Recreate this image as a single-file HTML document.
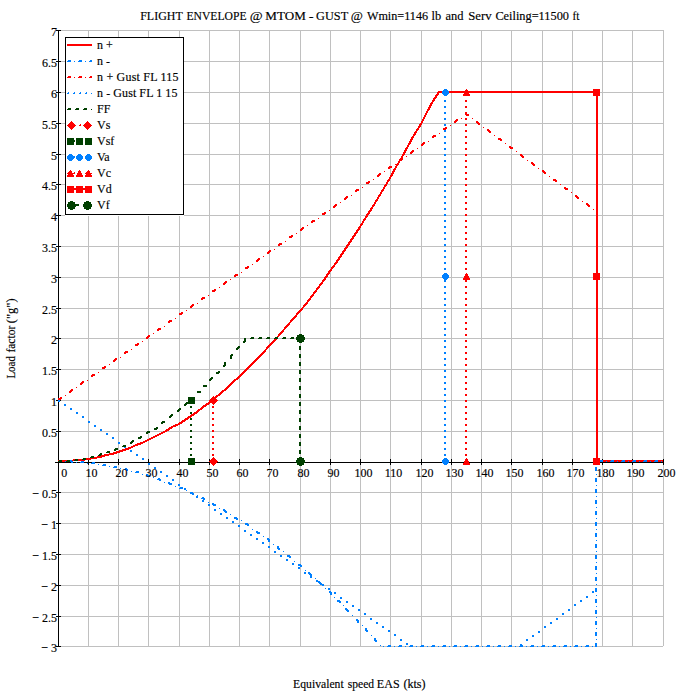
<!DOCTYPE html>
<html lang="en"><head><meta charset="utf-8"><title>Flight Envelope</title>
<style>html,body{margin:0;padding:0;background:#fff}body{width:681px;height:693px;overflow:hidden}svg text{stroke:#000;stroke-width:.15px}</style>
</head><body>
<svg width="681" height="693" viewBox="0 0 681 693" style="display:block" font-family="'Liberation Serif', 'Times New Roman', serif" font-size="12px" fill="#000">
<rect width="681" height="693" fill="#fff"/>
<g shape-rendering="crispEdges" fill="#c0c0c0">
<rect x="88" y="30" width="1" height="617"/>
<rect x="118" y="30" width="1" height="617"/>
<rect x="148" y="30" width="1" height="617"/>
<rect x="179" y="30" width="1" height="617"/>
<rect x="209" y="30" width="1" height="617"/>
<rect x="239" y="30" width="1" height="617"/>
<rect x="269" y="30" width="1" height="617"/>
<rect x="300" y="30" width="1" height="617"/>
<rect x="330" y="30" width="1" height="617"/>
<rect x="360" y="30" width="1" height="617"/>
<rect x="390" y="30" width="1" height="617"/>
<rect x="421" y="30" width="1" height="617"/>
<rect x="451" y="30" width="1" height="617"/>
<rect x="481" y="30" width="1" height="617"/>
<rect x="511" y="30" width="1" height="617"/>
<rect x="542" y="30" width="1" height="617"/>
<rect x="572" y="30" width="1" height="617"/>
<rect x="602" y="30" width="1" height="617"/>
<rect x="632" y="30" width="1" height="617"/>
<rect x="663" y="30" width="1" height="616"/>
<rect x="58" y="30" width="606" height="1"/>
<rect x="58" y="61" width="606" height="1"/>
<rect x="58" y="92" width="606" height="1"/>
<rect x="58" y="123" width="606" height="1"/>
<rect x="58" y="154" width="606" height="1"/>
<rect x="58" y="184" width="606" height="1"/>
<rect x="58" y="215" width="606" height="1"/>
<rect x="58" y="246" width="606" height="1"/>
<rect x="58" y="277" width="606" height="1"/>
<rect x="58" y="308" width="606" height="1"/>
<rect x="58" y="338" width="606" height="1"/>
<rect x="58" y="369" width="606" height="1"/>
<rect x="58" y="400" width="606" height="1"/>
<rect x="58" y="431" width="606" height="1"/>
<rect x="58" y="462" width="606" height="1"/>
<rect x="58" y="492" width="606" height="1"/>
<rect x="58" y="523" width="606" height="1"/>
<rect x="58" y="554" width="606" height="1"/>
<rect x="58" y="585" width="606" height="1"/>
<rect x="58" y="616" width="606" height="1"/>
<rect x="58" y="646" width="605" height="1"/>
</g>
<g shape-rendering="crispEdges" fill="#000">
<rect x="58" y="30" width="1" height="617"/>
<rect x="55" y="462" width="609" height="1"/>
<rect x="56" y="30" width="5" height="1"/>
<rect x="56" y="61" width="5" height="1"/>
<rect x="56" y="92" width="5" height="1"/>
<rect x="56" y="123" width="5" height="1"/>
<rect x="56" y="154" width="5" height="1"/>
<rect x="56" y="184" width="5" height="1"/>
<rect x="56" y="215" width="5" height="1"/>
<rect x="56" y="246" width="5" height="1"/>
<rect x="56" y="277" width="5" height="1"/>
<rect x="56" y="308" width="5" height="1"/>
<rect x="56" y="338" width="5" height="1"/>
<rect x="56" y="369" width="5" height="1"/>
<rect x="56" y="400" width="5" height="1"/>
<rect x="56" y="431" width="5" height="1"/>
<rect x="56" y="492" width="5" height="1"/>
<rect x="56" y="523" width="5" height="1"/>
<rect x="56" y="554" width="5" height="1"/>
<rect x="56" y="585" width="5" height="1"/>
<rect x="56" y="616" width="5" height="1"/>
<rect x="56" y="646" width="5" height="1"/>
<rect x="88" y="459" width="1" height="6"/>
<rect x="118" y="459" width="1" height="6"/>
<rect x="148" y="459" width="1" height="6"/>
<rect x="179" y="459" width="1" height="6"/>
<rect x="209" y="459" width="1" height="6"/>
<rect x="239" y="459" width="1" height="6"/>
<rect x="269" y="459" width="1" height="6"/>
<rect x="300" y="459" width="1" height="6"/>
<rect x="330" y="459" width="1" height="6"/>
<rect x="360" y="459" width="1" height="6"/>
<rect x="390" y="459" width="1" height="6"/>
<rect x="421" y="459" width="1" height="6"/>
<rect x="451" y="459" width="1" height="6"/>
<rect x="481" y="459" width="1" height="6"/>
<rect x="511" y="459" width="1" height="6"/>
<rect x="542" y="459" width="1" height="6"/>
<rect x="572" y="459" width="1" height="6"/>
<rect x="602" y="459" width="1" height="6"/>
<rect x="632" y="459" width="1" height="6"/>
<rect x="663" y="459" width="1" height="6"/>
</g>
<g shape-rendering="crispEdges">
<path fill="#ff0000" d="M466 89h1v1h-1zM593 89h7v1h-7zM465 90h3v1h-3zM593 90h7v1h-7zM438 91h4v1h-4zM449 91h151v1h-151zM437 92h5v1h-5zM449 92h151v1h-151zM437 93h2v1h-2zM464 93h5v1h-5zM593 93h7v1h-7zM436 94h3v1h-3zM463 94h7v1h-7zM593 94h7v1h-7zM435 95h3v1h-3zM463 95h7v1h-7zM593 95h7v1h-7zM435 96h2v1h-2zM596 96h2v1h-2zM434 97h3v1h-3zM596 97h2v1h-2zM433 98h3v1h-3zM596 98h2v1h-2zM433 99h2v1h-2zM596 99h2v1h-2zM432 100h3v1h-3zM465 100h2v1h-2zM596 100h2v1h-2zM432 101h2v1h-2zM465 101h2v1h-2zM596 101h2v1h-2zM431 102h2v1h-2zM596 102h2v1h-2zM430 103h3v1h-3zM596 103h2v1h-2zM430 104h2v1h-2zM596 104h2v1h-2zM429 105h3v1h-3zM596 105h2v1h-2zM429 106h2v1h-2zM465 106h2v1h-2zM596 106h2v1h-2zM428 107h3v1h-3zM465 107h2v1h-2zM596 107h2v1h-2zM428 108h2v1h-2zM596 108h2v1h-2zM427 109h3v1h-3zM596 109h2v1h-2zM427 110h2v1h-2zM596 110h2v1h-2zM426 111h2v1h-2zM596 111h2v1h-2zM426 112h2v1h-2zM465 112h2v1h-2zM596 112h2v1h-2zM425 113h2v1h-2zM465 113h2v1h-2zM596 113h2v1h-2zM425 114h2v1h-2zM465 114h4v1h-4zM596 114h2v1h-2zM424 115h2v1h-2zM466 115h3v1h-3zM596 115h2v1h-2zM424 116h2v1h-2zM596 116h2v1h-2zM423 117h2v1h-2zM596 117h2v1h-2zM423 118h2v1h-2zM461 118h1v1h-1zM465 118h2v1h-2zM472 118h1v1h-1zM596 118h2v1h-2zM422 119h2v1h-2zM456 119h2v1h-2zM465 119h2v1h-2zM596 119h2v1h-2zM422 120h2v1h-2zM455 120h3v1h-3zM596 120h2v1h-2zM421 121h2v1h-2zM454 121h3v1h-3zM476 121h2v1h-2zM596 121h2v1h-2zM421 122h2v1h-2zM454 122h2v1h-2zM476 122h3v1h-3zM596 122h2v1h-2zM420 123h2v1h-2zM477 123h3v1h-3zM596 123h2v1h-2zM419 124h3v1h-3zM465 124h2v1h-2zM478 124h2v1h-2zM596 124h2v1h-2zM419 125h2v1h-2zM450 125h1v1h-1zM465 125h2v1h-2zM596 125h2v1h-2zM418 126h3v1h-3zM596 126h2v1h-2zM418 127h2v1h-2zM445 127h2v1h-2zM483 127h1v1h-1zM596 127h2v1h-2zM417 128h2v1h-2zM443 128h4v1h-4zM596 128h2v1h-2zM416 129h3v1h-3zM443 129h3v1h-3zM487 129h2v1h-2zM596 129h2v1h-2zM416 130h2v1h-2zM465 130h2v1h-2zM487 130h3v1h-3zM596 130h2v1h-2zM415 131h2v1h-2zM465 131h2v1h-2zM488 131h3v1h-3zM596 131h2v1h-2zM414 132h3v1h-3zM489 132h2v1h-2zM596 132h2v1h-2zM414 133h2v1h-2zM439 133h1v1h-1zM596 133h2v1h-2zM413 134h3v1h-3zM596 134h2v1h-2zM413 135h2v1h-2zM433 135h3v1h-3zM494 135h1v1h-1zM596 135h2v1h-2zM412 136h2v1h-2zM432 136h4v1h-4zM465 136h2v1h-2zM596 136h2v1h-2zM411 137h3v1h-3zM432 137h2v1h-2zM465 137h2v1h-2zM596 137h2v1h-2zM411 138h2v1h-2zM498 138h3v1h-3zM596 138h2v1h-2zM410 139h3v1h-3zM498 139h4v1h-4zM596 139h2v1h-2zM410 140h2v1h-2zM500 140h2v1h-2zM596 140h2v1h-2zM409 141h3v1h-3zM428 141h1v1h-1zM596 141h2v1h-2zM409 142h2v1h-2zM423 142h2v1h-2zM465 142h2v1h-2zM596 142h2v1h-2zM408 143h3v1h-3zM422 143h3v1h-3zM465 143h2v1h-2zM505 143h1v1h-1zM596 143h2v1h-2zM408 144h2v1h-2zM421 144h3v1h-3zM596 144h2v1h-2zM407 145h2v1h-2zM421 145h2v1h-2zM596 145h2v1h-2zM407 146h2v1h-2zM509 146h2v1h-2zM596 146h2v1h-2zM406 147h2v1h-2zM509 147h4v1h-4zM596 147h2v1h-2zM405 148h3v1h-3zM417 148h1v1h-1zM465 148h2v1h-2zM510 148h3v1h-3zM596 148h2v1h-2zM405 149h2v1h-2zM465 149h2v1h-2zM596 149h2v1h-2zM404 150h3v1h-3zM412 150h2v1h-2zM596 150h2v1h-2zM404 151h2v1h-2zM411 151h3v1h-3zM516 151h1v1h-1zM596 151h2v1h-2zM403 152h3v1h-3zM410 152h3v1h-3zM596 152h2v1h-2zM403 153h2v1h-2zM410 153h2v1h-2zM596 153h2v1h-2zM402 154h3v1h-3zM465 154h2v1h-2zM520 154h2v1h-2zM596 154h2v1h-2zM402 155h2v1h-2zM465 155h2v1h-2zM520 155h3v1h-3zM596 155h2v1h-2zM401 156h2v1h-2zM406 156h1v1h-1zM521 156h3v1h-3zM596 156h2v1h-2zM401 157h2v1h-2zM522 157h2v1h-2zM596 157h2v1h-2zM400 158h3v1h-3zM596 158h2v1h-2zM399 159h4v1h-4zM596 159h2v1h-2zM399 160h3v1h-3zM465 160h2v1h-2zM527 160h1v1h-1zM596 160h2v1h-2zM398 161h2v1h-2zM465 161h2v1h-2zM596 161h2v1h-2zM398 162h2v1h-2zM531 162h2v1h-2zM596 162h2v1h-2zM397 163h2v1h-2zM531 163h3v1h-3zM596 163h2v1h-2zM395 164h4v1h-4zM532 164h3v1h-3zM596 164h2v1h-2zM396 165h2v1h-2zM533 165h2v1h-2zM596 165h2v1h-2zM389 166h3v1h-3zM395 166h2v1h-2zM465 166h2v1h-2zM596 166h2v1h-2zM388 167h4v1h-4zM395 167h2v1h-2zM465 167h2v1h-2zM596 167h2v1h-2zM388 168h2v1h-2zM394 168h2v1h-2zM538 168h1v1h-1zM596 168h2v1h-2zM393 169h3v1h-3zM596 169h2v1h-2zM393 170h2v1h-2zM542 170h2v1h-2zM596 170h2v1h-2zM384 171h1v1h-1zM392 171h3v1h-3zM542 171h3v1h-3zM596 171h2v1h-2zM392 172h2v1h-2zM465 172h2v1h-2zM543 172h3v1h-3zM596 172h2v1h-2zM379 173h2v1h-2zM391 173h3v1h-3zM465 173h2v1h-2zM544 173h2v1h-2zM596 173h2v1h-2zM378 174h3v1h-3zM391 174h2v1h-2zM596 174h2v1h-2zM377 175h3v1h-3zM390 175h3v1h-3zM596 175h2v1h-2zM377 176h2v1h-2zM390 176h2v1h-2zM549 176h1v1h-1zM596 176h2v1h-2zM389 177h2v1h-2zM596 177h2v1h-2zM389 178h2v1h-2zM465 178h2v1h-2zM596 178h2v1h-2zM373 179h1v1h-1zM388 179h2v1h-2zM465 179h2v1h-2zM553 179h3v1h-3zM596 179h2v1h-2zM387 180h3v1h-3zM553 180h4v1h-4zM596 180h2v1h-2zM368 181h2v1h-2zM387 181h2v1h-2zM555 181h2v1h-2zM596 181h2v1h-2zM366 182h4v1h-4zM386 182h2v1h-2zM596 182h2v1h-2zM366 183h3v1h-3zM386 183h2v1h-2zM596 183h2v1h-2zM385 184h2v1h-2zM465 184h2v1h-2zM560 184h1v1h-1zM596 184h2v1h-2zM384 185h3v1h-3zM465 185h2v1h-2zM596 185h2v1h-2zM384 186h2v1h-2zM596 186h2v1h-2zM362 187h1v1h-1zM383 187h2v1h-2zM564 187h2v1h-2zM596 187h2v1h-2zM383 188h2v1h-2zM564 188h4v1h-4zM596 188h2v1h-2zM356 189h3v1h-3zM382 189h2v1h-2zM565 189h3v1h-3zM596 189h2v1h-2zM355 190h4v1h-4zM381 190h3v1h-3zM465 190h2v1h-2zM596 190h2v1h-2zM355 191h2v1h-2zM381 191h2v1h-2zM465 191h2v1h-2zM596 191h2v1h-2zM380 192h2v1h-2zM571 192h1v1h-1zM596 192h2v1h-2zM380 193h2v1h-2zM596 193h2v1h-2zM379 194h2v1h-2zM596 194h2v1h-2zM351 195h1v1h-1zM378 195h3v1h-3zM575 195h2v1h-2zM596 195h2v1h-2zM346 196h2v1h-2zM378 196h2v1h-2zM465 196h2v1h-2zM575 196h3v1h-3zM596 196h2v1h-2zM345 197h3v1h-3zM377 197h2v1h-2zM465 197h2v1h-2zM576 197h3v1h-3zM596 197h2v1h-2zM344 198h3v1h-3zM377 198h2v1h-2zM577 198h2v1h-2zM596 198h2v1h-2zM344 199h2v1h-2zM376 199h2v1h-2zM596 199h2v1h-2zM375 200h3v1h-3zM596 200h2v1h-2zM375 201h2v1h-2zM582 201h1v1h-1zM596 201h2v1h-2zM340 202h1v1h-1zM374 202h2v1h-2zM465 202h2v1h-2zM596 202h2v1h-2zM374 203h2v1h-2zM465 203h2v1h-2zM586 203h2v1h-2zM596 203h2v1h-2zM335 204h2v1h-2zM373 204h2v1h-2zM586 204h3v1h-3zM596 204h2v1h-2zM334 205h3v1h-3zM372 205h3v1h-3zM587 205h3v1h-3zM596 205h2v1h-2zM333 206h3v1h-3zM372 206h2v1h-2zM588 206h2v1h-2zM596 206h2v1h-2zM333 207h2v1h-2zM371 207h2v1h-2zM596 207h2v1h-2zM370 208h3v1h-3zM465 208h2v1h-2zM596 208h2v1h-2zM370 209h2v1h-2zM465 209h2v1h-2zM593 209h1v1h-1zM596 209h2v1h-2zM329 210h1v1h-1zM369 210h3v1h-3zM596 210h2v1h-2zM368 211h3v1h-3zM596 211h2v1h-2zM324 212h2v1h-2zM368 212h2v1h-2zM596 212h2v1h-2zM322 213h4v1h-4zM367 213h3v1h-3zM596 213h2v1h-2zM322 214h3v1h-3zM366 214h3v1h-3zM465 214h2v1h-2zM596 214h2v1h-2zM366 215h2v1h-2zM465 215h2v1h-2zM596 215h2v1h-2zM365 216h3v1h-3zM596 216h2v1h-2zM365 217h2v1h-2zM596 217h2v1h-2zM318 218h1v1h-1zM364 218h2v1h-2zM596 218h2v1h-2zM363 219h3v1h-3zM596 219h2v1h-2zM312 220h3v1h-3zM363 220h2v1h-2zM465 220h2v1h-2zM596 220h2v1h-2zM311 221h4v1h-4zM362 221h2v1h-2zM465 221h2v1h-2zM596 221h2v1h-2zM311 222h2v1h-2zM362 222h2v1h-2zM596 222h2v1h-2zM361 223h2v1h-2zM596 223h2v1h-2zM360 224h3v1h-3zM596 224h2v1h-2zM307 225h1v1h-1zM360 225h2v1h-2zM596 225h2v1h-2zM359 226h2v1h-2zM465 226h2v1h-2zM596 226h2v1h-2zM302 227h2v1h-2zM358 227h3v1h-3zM465 227h2v1h-2zM596 227h2v1h-2zM301 228h3v1h-3zM358 228h2v1h-2zM596 228h2v1h-2zM300 229h3v1h-3zM357 229h3v1h-3zM596 229h2v1h-2zM300 230h2v1h-2zM356 230h3v1h-3zM596 230h2v1h-2zM356 231h2v1h-2zM596 231h2v1h-2zM355 232h3v1h-3zM465 232h2v1h-2zM596 232h2v1h-2zM296 233h1v1h-1zM354 233h3v1h-3zM465 233h2v1h-2zM596 233h2v1h-2zM354 234h2v1h-2zM596 234h2v1h-2zM291 235h2v1h-2zM353 235h3v1h-3zM596 235h2v1h-2zM289 236h4v1h-4zM352 236h3v1h-3zM596 236h2v1h-2zM289 237h3v1h-3zM352 237h2v1h-2zM596 237h2v1h-2zM351 238h3v1h-3zM465 238h2v1h-2zM596 238h2v1h-2zM350 239h3v1h-3zM465 239h2v1h-2zM596 239h2v1h-2zM350 240h2v1h-2zM596 240h2v1h-2zM285 241h1v1h-1zM349 241h3v1h-3zM596 241h2v1h-2zM348 242h3v1h-3zM596 242h2v1h-2zM279 243h3v1h-3zM348 243h2v1h-2zM596 243h2v1h-2zM278 244h4v1h-4zM347 244h3v1h-3zM465 244h2v1h-2zM596 244h2v1h-2zM278 245h2v1h-2zM346 245h3v1h-3zM465 245h2v1h-2zM596 245h2v1h-2zM346 246h2v1h-2zM596 246h2v1h-2zM345 247h3v1h-3zM596 247h2v1h-2zM344 248h3v1h-3zM596 248h2v1h-2zM274 249h1v1h-1zM344 249h2v1h-2zM596 249h2v1h-2zM269 250h2v1h-2zM343 250h3v1h-3zM465 250h2v1h-2zM596 250h2v1h-2zM268 251h3v1h-3zM342 251h3v1h-3zM465 251h2v1h-2zM596 251h2v1h-2zM267 252h3v1h-3zM342 252h2v1h-2zM596 252h2v1h-2zM267 253h2v1h-2zM341 253h3v1h-3zM596 253h2v1h-2zM340 254h3v1h-3zM596 254h2v1h-2zM340 255h2v1h-2zM596 255h2v1h-2zM263 256h1v1h-1zM339 256h3v1h-3zM465 256h2v1h-2zM596 256h2v1h-2zM338 257h3v1h-3zM465 257h2v1h-2zM596 257h2v1h-2zM258 258h2v1h-2zM338 258h2v1h-2zM596 258h2v1h-2zM257 259h3v1h-3zM337 259h3v1h-3zM596 259h2v1h-2zM256 260h3v1h-3zM336 260h3v1h-3zM596 260h2v1h-2zM256 261h2v1h-2zM336 261h2v1h-2zM596 261h2v1h-2zM335 262h3v1h-3zM465 262h2v1h-2zM596 262h2v1h-2zM334 263h3v1h-3zM465 263h2v1h-2zM596 263h2v1h-2zM252 264h1v1h-1zM334 264h2v1h-2zM596 264h2v1h-2zM333 265h2v1h-2zM596 265h2v1h-2zM247 266h2v1h-2zM332 266h3v1h-3zM596 266h2v1h-2zM245 267h4v1h-4zM331 267h3v1h-3zM596 267h2v1h-2zM245 268h3v1h-3zM331 268h2v1h-2zM465 268h2v1h-2zM596 268h2v1h-2zM330 269h2v1h-2zM465 269h2v1h-2zM596 269h2v1h-2zM329 270h3v1h-3zM596 270h2v1h-2zM328 271h3v1h-3zM596 271h2v1h-2zM241 272h1v1h-1zM328 272h2v1h-2zM596 272h2v1h-2zM327 273h3v1h-3zM466 273h1v1h-1zM593 273h7v1h-7zM235 274h3v1h-3zM326 274h3v1h-3zM465 274h3v1h-3zM593 274h7v1h-7zM234 275h4v1h-4zM326 275h2v1h-2zM465 275h3v1h-3zM593 275h7v1h-7zM234 276h2v1h-2zM325 276h3v1h-3zM464 276h5v1h-5zM593 276h7v1h-7zM324 277h3v1h-3zM464 277h5v1h-5zM593 277h7v1h-7zM324 278h2v1h-2zM463 278h7v1h-7zM593 278h7v1h-7zM230 279h1v1h-1zM323 279h3v1h-3zM463 279h7v1h-7zM593 279h7v1h-7zM322 280h3v1h-3zM465 280h2v1h-2zM596 280h2v1h-2zM225 281h2v1h-2zM322 281h2v1h-2zM465 281h2v1h-2zM596 281h2v1h-2zM224 282h3v1h-3zM321 282h2v1h-2zM596 282h2v1h-2zM223 283h3v1h-3zM320 283h3v1h-3zM596 283h2v1h-2zM223 284h2v1h-2zM319 284h3v1h-3zM596 284h2v1h-2zM319 285h2v1h-2zM596 285h2v1h-2zM318 286h2v1h-2zM465 286h2v1h-2zM596 286h2v1h-2zM219 287h1v1h-1zM317 287h3v1h-3zM465 287h2v1h-2zM596 287h2v1h-2zM316 288h3v1h-3zM596 288h2v1h-2zM214 289h2v1h-2zM316 289h2v1h-2zM596 289h2v1h-2zM212 290h4v1h-4zM315 290h2v1h-2zM596 290h2v1h-2zM212 291h3v1h-3zM314 291h3v1h-3zM596 291h2v1h-2zM313 292h3v1h-3zM465 292h2v1h-2zM596 292h2v1h-2zM313 293h2v1h-2zM465 293h2v1h-2zM596 293h2v1h-2zM312 294h2v1h-2zM596 294h2v1h-2zM208 295h1v1h-1zM311 295h3v1h-3zM596 295h2v1h-2zM310 296h3v1h-3zM596 296h2v1h-2zM202 297h3v1h-3zM310 297h2v1h-2zM596 297h2v1h-2zM201 298h4v1h-4zM309 298h2v1h-2zM465 298h2v1h-2zM596 298h2v1h-2zM201 299h2v1h-2zM308 299h3v1h-3zM465 299h2v1h-2zM596 299h2v1h-2zM307 300h3v1h-3zM596 300h2v1h-2zM307 301h2v1h-2zM596 301h2v1h-2zM306 302h2v1h-2zM596 302h2v1h-2zM197 303h1v1h-1zM305 303h3v1h-3zM596 303h2v1h-2zM192 304h2v1h-2zM304 304h3v1h-3zM465 304h2v1h-2zM596 304h2v1h-2zM191 305h3v1h-3zM303 305h3v1h-3zM465 305h2v1h-2zM596 305h2v1h-2zM190 306h3v1h-3zM303 306h2v1h-2zM596 306h2v1h-2zM190 307h2v1h-2zM302 307h2v1h-2zM596 307h2v1h-2zM301 308h2v1h-2zM596 308h2v1h-2zM300 309h3v1h-3zM596 309h2v1h-2zM186 310h1v1h-1zM299 310h3v1h-3zM465 310h2v1h-2zM596 310h2v1h-2zM298 311h3v1h-3zM465 311h2v1h-2zM596 311h2v1h-2zM181 312h2v1h-2zM297 312h3v1h-3zM596 312h2v1h-2zM179 313h4v1h-4zM296 313h3v1h-3zM596 313h2v1h-2zM179 314h3v1h-3zM296 314h2v1h-2zM596 314h2v1h-2zM295 315h2v1h-2zM596 315h2v1h-2zM294 316h3v1h-3zM465 316h2v1h-2zM596 316h2v1h-2zM293 317h3v1h-3zM465 317h2v1h-2zM596 317h2v1h-2zM175 318h1v1h-1zM292 318h3v1h-3zM596 318h2v1h-2zM291 319h3v1h-3zM596 319h2v1h-2zM169 320h3v1h-3zM290 320h3v1h-3zM596 320h2v1h-2zM168 321h4v1h-4zM290 321h2v1h-2zM596 321h2v1h-2zM168 322h2v1h-2zM289 322h2v1h-2zM465 322h2v1h-2zM596 322h2v1h-2zM288 323h2v1h-2zM465 323h2v1h-2zM596 323h2v1h-2zM287 324h3v1h-3zM596 324h2v1h-2zM286 325h3v1h-3zM596 325h2v1h-2zM164 326h1v1h-1zM285 326h3v1h-3zM596 326h2v1h-2zM284 327h3v1h-3zM596 327h2v1h-2zM158 328h3v1h-3zM284 328h2v1h-2zM465 328h2v1h-2zM596 328h2v1h-2zM157 329h4v1h-4zM283 329h2v1h-2zM465 329h2v1h-2zM596 329h2v1h-2zM157 330h2v1h-2zM282 330h2v1h-2zM596 330h2v1h-2zM281 331h3v1h-3zM596 331h2v1h-2zM280 332h3v1h-3zM596 332h2v1h-2zM153 333h1v1h-1zM279 333h3v1h-3zM596 333h2v1h-2zM278 334h3v1h-3zM465 334h2v1h-2zM596 334h2v1h-2zM148 335h2v1h-2zM278 335h2v1h-2zM465 335h2v1h-2zM596 335h2v1h-2zM147 336h3v1h-3zM277 336h2v1h-2zM596 336h2v1h-2zM146 337h3v1h-3zM596 337h2v1h-2zM146 338h2v1h-2zM596 338h2v1h-2zM274 339h3v1h-3zM596 339h2v1h-2zM273 340h3v1h-3zM465 340h2v1h-2zM596 340h2v1h-2zM142 341h1v1h-1zM272 341h3v1h-3zM465 341h2v1h-2zM596 341h2v1h-2zM271 342h3v1h-3zM596 342h2v1h-2zM137 343h2v1h-2zM270 343h3v1h-3zM596 343h2v1h-2zM135 344h4v1h-4zM269 344h3v1h-3zM596 344h2v1h-2zM135 345h3v1h-3zM268 345h3v1h-3zM596 345h2v1h-2zM267 346h3v1h-3zM465 346h2v1h-2zM596 346h2v1h-2zM266 347h3v1h-3zM465 347h2v1h-2zM596 347h2v1h-2zM266 348h2v1h-2zM596 348h2v1h-2zM131 349h1v1h-1zM265 349h2v1h-2zM596 349h2v1h-2zM264 350h2v1h-2zM596 350h2v1h-2zM125 351h3v1h-3zM263 351h3v1h-3zM596 351h2v1h-2zM124 352h4v1h-4zM262 352h3v1h-3zM465 352h2v1h-2zM596 352h2v1h-2zM124 353h2v1h-2zM261 353h3v1h-3zM465 353h2v1h-2zM596 353h2v1h-2zM260 354h3v1h-3zM596 354h2v1h-2zM259 355h3v1h-3zM596 355h2v1h-2zM258 356h3v1h-3zM596 356h2v1h-2zM120 357h1v1h-1zM257 357h3v1h-3zM596 357h2v1h-2zM115 358h2v1h-2zM256 358h3v1h-3zM465 358h2v1h-2zM596 358h2v1h-2zM114 359h3v1h-3zM255 359h3v1h-3zM465 359h2v1h-2zM596 359h2v1h-2zM113 360h3v1h-3zM254 360h3v1h-3zM596 360h2v1h-2zM113 361h2v1h-2zM253 361h3v1h-3zM596 361h2v1h-2zM252 362h3v1h-3zM596 362h2v1h-2zM251 363h3v1h-3zM596 363h2v1h-2zM109 364h1v1h-1zM250 364h3v1h-3zM465 364h2v1h-2zM596 364h2v1h-2zM249 365h3v1h-3zM465 365h2v1h-2zM596 365h2v1h-2zM104 366h2v1h-2zM248 366h3v1h-3zM596 366h2v1h-2zM102 367h4v1h-4zM247 367h3v1h-3zM596 367h2v1h-2zM102 368h3v1h-3zM246 368h3v1h-3zM596 368h2v1h-2zM245 369h3v1h-3zM596 369h2v1h-2zM244 370h3v1h-3zM465 370h2v1h-2zM596 370h2v1h-2zM243 371h3v1h-3zM465 371h2v1h-2zM596 371h2v1h-2zM98 372h1v1h-1zM242 372h3v1h-3zM596 372h2v1h-2zM241 373h3v1h-3zM596 373h2v1h-2zM92 374h3v1h-3zM240 374h3v1h-3zM596 374h2v1h-2zM91 375h4v1h-4zM239 375h3v1h-3zM596 375h2v1h-2zM91 376h2v1h-2zM238 376h3v1h-3zM465 376h2v1h-2zM596 376h2v1h-2zM237 377h3v1h-3zM465 377h2v1h-2zM596 377h2v1h-2zM236 378h3v1h-3zM596 378h2v1h-2zM234 379h4v1h-4zM596 379h2v1h-2zM87 380h1v1h-1zM233 380h3v1h-3zM596 380h2v1h-2zM82 381h2v1h-2zM232 381h3v1h-3zM596 381h2v1h-2zM81 382h3v1h-3zM231 382h3v1h-3zM465 382h2v1h-2zM596 382h2v1h-2zM80 383h3v1h-3zM230 383h3v1h-3zM465 383h2v1h-2zM596 383h2v1h-2zM80 384h2v1h-2zM229 384h3v1h-3zM596 384h2v1h-2zM228 385h3v1h-3zM596 385h2v1h-2zM227 386h3v1h-3zM596 386h2v1h-2zM76 387h1v1h-1zM226 387h3v1h-3zM596 387h2v1h-2zM225 388h3v1h-3zM465 388h2v1h-2zM596 388h2v1h-2zM71 389h2v1h-2zM224 389h3v1h-3zM465 389h2v1h-2zM596 389h2v1h-2zM70 390h3v1h-3zM222 390h4v1h-4zM596 390h2v1h-2zM69 391h3v1h-3zM221 391h3v1h-3zM596 391h2v1h-2zM69 392h2v1h-2zM220 392h3v1h-3zM596 392h2v1h-2zM219 393h3v1h-3zM596 393h2v1h-2zM218 394h3v1h-3zM465 394h2v1h-2zM596 394h2v1h-2zM65 395h1v1h-1zM216 395h4v1h-4zM465 395h2v1h-2zM596 395h2v1h-2zM213 396h1v1h-1zM215 396h3v1h-3zM596 396h2v1h-2zM60 397h2v1h-2zM212 397h5v1h-5zM596 397h2v1h-2zM58 398h4v1h-4zM211 398h5v1h-5zM596 398h2v1h-2zM58 399h3v1h-3zM210 399h7v1h-7zM596 399h2v1h-2zM209 400h9v1h-9zM465 400h2v1h-2zM596 400h2v1h-2zM209 401h8v1h-8zM465 401h2v1h-2zM596 401h2v1h-2zM208 402h8v1h-8zM596 402h2v1h-2zM206 403h4v1h-4zM212 403h3v1h-3zM596 403h2v1h-2zM205 404h4v1h-4zM213 404h1v1h-1zM596 404h2v1h-2zM203 405h4v1h-4zM596 405h2v1h-2zM202 406h4v1h-4zM212 406h2v1h-2zM465 406h2v1h-2zM596 406h2v1h-2zM201 407h3v1h-3zM212 407h2v1h-2zM465 407h2v1h-2zM596 407h2v1h-2zM200 408h3v1h-3zM596 408h2v1h-2zM198 409h4v1h-4zM596 409h2v1h-2zM197 410h3v1h-3zM596 410h2v1h-2zM196 411h3v1h-3zM596 411h2v1h-2zM194 412h4v1h-4zM212 412h2v1h-2zM465 412h2v1h-2zM596 412h2v1h-2zM193 413h4v1h-4zM212 413h2v1h-2zM465 413h2v1h-2zM596 413h2v1h-2zM191 414h4v1h-4zM596 414h2v1h-2zM190 415h4v1h-4zM596 415h2v1h-2zM188 416h4v1h-4zM596 416h2v1h-2zM187 417h4v1h-4zM596 417h2v1h-2zM185 418h4v1h-4zM212 418h2v1h-2zM465 418h2v1h-2zM596 418h2v1h-2zM184 419h4v1h-4zM212 419h2v1h-2zM465 419h2v1h-2zM596 419h2v1h-2zM182 420h4v1h-4zM596 420h2v1h-2zM181 421h4v1h-4zM596 421h2v1h-2zM179 422h4v1h-4zM596 422h2v1h-2zM178 423h4v1h-4zM596 423h2v1h-2zM175 424h5v1h-5zM212 424h2v1h-2zM465 424h2v1h-2zM596 424h2v1h-2zM173 425h5v1h-5zM212 425h2v1h-2zM465 425h2v1h-2zM596 425h2v1h-2zM171 426h5v1h-5zM596 426h2v1h-2zM169 427h4v1h-4zM596 427h2v1h-2zM168 428h4v1h-4zM596 428h2v1h-2zM166 429h4v1h-4zM596 429h2v1h-2zM165 430h4v1h-4zM212 430h2v1h-2zM465 430h2v1h-2zM596 430h2v1h-2zM163 431h4v1h-4zM212 431h2v1h-2zM465 431h2v1h-2zM596 431h2v1h-2zM161 432h4v1h-4zM596 432h2v1h-2zM159 433h4v1h-4zM596 433h2v1h-2zM157 434h4v1h-4zM596 434h2v1h-2zM155 435h4v1h-4zM596 435h2v1h-2zM153 436h4v1h-4zM212 436h2v1h-2zM465 436h2v1h-2zM596 436h2v1h-2zM151 437h4v1h-4zM212 437h2v1h-2zM465 437h2v1h-2zM596 437h2v1h-2zM149 438h4v1h-4zM596 438h2v1h-2zM147 439h4v1h-4zM596 439h2v1h-2zM145 440h4v1h-4zM596 440h2v1h-2zM143 441h4v1h-4zM596 441h2v1h-2zM140 442h5v1h-5zM212 442h2v1h-2zM465 442h2v1h-2zM596 442h2v1h-2zM137 443h6v1h-6zM212 443h2v1h-2zM465 443h2v1h-2zM596 443h2v1h-2zM135 444h6v1h-6zM596 444h2v1h-2zM133 445h5v1h-5zM596 445h2v1h-2zM131 446h4v1h-4zM596 446h2v1h-2zM128 447h5v1h-5zM596 447h2v1h-2zM125 448h6v1h-6zM212 448h2v1h-2zM465 448h2v1h-2zM596 448h2v1h-2zM122 449h7v1h-7zM212 449h2v1h-2zM465 449h2v1h-2zM596 449h2v1h-2zM119 450h7v1h-7zM596 450h2v1h-2zM116 451h7v1h-7zM596 451h2v1h-2zM113 452h7v1h-7zM596 452h2v1h-2zM109 453h8v1h-8zM596 453h2v1h-2zM104 454h10v1h-10zM212 454h2v1h-2zM465 454h2v1h-2zM596 454h2v1h-2zM101 455h8v1h-8zM212 455h2v1h-2zM465 455h2v1h-2zM596 455h2v1h-2zM97 456h8v1h-8zM596 456h2v1h-2zM94 457h8v1h-8zM213 457h1v1h-1zM596 457h2v1h-2zM86 458h11v1h-11zM212 458h3v1h-3zM466 458h1v1h-1zM593 458h7v1h-7zM73 459h2v1h-2zM78 459h4v1h-4zM86 459h5v1h-5zM211 459h5v1h-5zM465 459h3v1h-3zM593 459h7v1h-7zM58 460h1v1h-1zM62 460h5v1h-5zM72 460h2v1h-2zM78 460h7v1h-7zM210 460h7v1h-7zM465 460h3v1h-3zM593 460h7v1h-7zM603 460h8v1h-8zM614 460h8v1h-8zM625 460h8v1h-8zM636 460h8v1h-8zM647 460h8v1h-8zM658 460h5v1h-5zM62 461h3v1h-3zM209 461h9v1h-9zM464 461h5v1h-5zM593 461h7v1h-7zM603 461h3v1h-3zM607 461h3v1h-3zM614 461h3v1h-3zM618 461h3v1h-3zM625 461h3v1h-3zM629 461h3v1h-3zM636 461h3v1h-3zM640 461h3v1h-3zM647 461h3v1h-3zM651 461h3v1h-3zM658 461h3v1h-3zM662 461h1v1h-1zM210 462h7v1h-7zM464 462h5v1h-5zM593 462h7v1h-7zM211 463h5v1h-5zM463 463h7v1h-7zM593 463h7v1h-7zM212 464h3v1h-3zM463 464h7v1h-7zM593 464h7v1h-7zM213 465h1v1h-1z"/>
<path fill="#004000" d="M299 334h3v1h-3zM297 335h7v1h-7zM297 336h7v1h-7zM251 337h3v1h-3zM259 337h3v1h-3zM267 337h3v1h-3zM275 337h3v1h-3zM283 337h3v1h-3zM291 337h3v1h-3zM296 337h9v1h-9zM244 338h2v1h-2zM250 338h4v1h-4zM258 338h4v1h-4zM266 338h4v1h-4zM274 338h4v1h-4zM282 338h4v1h-4zM290 338h4v1h-4zM296 338h9v1h-9zM244 339h2v1h-2zM296 339h9v1h-9zM244 340h2v1h-2zM297 340h7v1h-7zM243 341h3v1h-3zM297 341h7v1h-7zM243 342h2v1h-2zM299 342h3v1h-3zM238 346h2v1h-2zM299 346h2v1h-2zM237 347h3v1h-3zM299 347h2v1h-2zM236 348h3v1h-3zM299 348h2v1h-2zM236 349h2v1h-2zM299 349h2v1h-2zM231 354h2v1h-2zM299 354h2v1h-2zM230 355h3v1h-3zM299 355h2v1h-2zM230 356h2v1h-2zM299 356h2v1h-2zM230 357h2v1h-2zM299 357h2v1h-2zM230 358h2v1h-2zM224 362h2v1h-2zM299 362h2v1h-2zM224 363h2v1h-2zM299 363h2v1h-2zM224 364h2v1h-2zM299 364h2v1h-2zM223 365h3v1h-3zM299 365h2v1h-2zM223 366h2v1h-2zM299 370h2v1h-2zM218 371h2v1h-2zM299 371h2v1h-2zM216 372h4v1h-4zM299 372h2v1h-2zM216 373h3v1h-3zM299 373h2v1h-2zM211 377h2v1h-2zM210 378h3v1h-3zM299 378h2v1h-2zM209 379h3v1h-3zM299 379h2v1h-2zM209 380h2v1h-2zM299 380h2v1h-2zM299 381h2v1h-2zM203 385h4v1h-4zM203 386h4v1h-4zM299 386h2v1h-2zM299 387h2v1h-2zM299 388h2v1h-2zM299 389h2v1h-2zM197 391h4v1h-4zM197 392h4v1h-4zM299 394h2v1h-2zM299 395h2v1h-2zM299 396h2v1h-2zM188 397h7v1h-7zM299 397h2v1h-2zM188 398h7v1h-7zM188 399h7v1h-7zM188 400h7v1h-7zM188 401h7v1h-7zM186 402h9v1h-9zM299 402h2v1h-2zM185 403h10v1h-10zM299 403h2v1h-2zM184 404h3v1h-3zM299 404h2v1h-2zM184 405h2v1h-2zM299 405h2v1h-2zM190 406h2v1h-2zM190 407h2v1h-2zM179 408h2v1h-2zM178 409h3v1h-3zM177 410h3v1h-3zM299 410h2v1h-2zM177 411h2v1h-2zM299 411h2v1h-2zM190 412h2v1h-2zM299 412h2v1h-2zM190 413h2v1h-2zM299 413h2v1h-2zM171 414h2v1h-2zM170 415h3v1h-3zM169 416h3v1h-3zM169 417h2v1h-2zM190 418h2v1h-2zM299 418h2v1h-2zM190 419h2v1h-2zM299 419h2v1h-2zM299 420h2v1h-2zM162 421h3v1h-3zM299 421h2v1h-2zM161 422h4v1h-4zM161 423h2v1h-2zM190 424h2v1h-2zM190 425h2v1h-2zM299 426h2v1h-2zM156 427h2v1h-2zM299 427h2v1h-2zM154 428h4v1h-4zM299 428h2v1h-2zM154 429h3v1h-3zM299 429h2v1h-2zM190 430h2v1h-2zM147 431h3v1h-3zM190 431h2v1h-2zM146 432h4v1h-4zM146 433h2v1h-2zM299 434h2v1h-2zM299 435h2v1h-2zM140 436h2v1h-2zM190 436h2v1h-2zM299 436h2v1h-2zM138 437h4v1h-4zM190 437h2v1h-2zM299 437h2v1h-2zM138 438h3v1h-3zM132 440h2v1h-2zM131 441h3v1h-3zM130 442h3v1h-3zM190 442h2v1h-2zM299 442h2v1h-2zM130 443h2v1h-2zM190 443h2v1h-2zM299 443h2v1h-2zM299 444h2v1h-2zM123 445h3v1h-3zM299 445h2v1h-2zM122 446h4v1h-4zM115 448h3v1h-3zM190 448h2v1h-2zM114 449h4v1h-4zM190 449h2v1h-2zM114 450h2v1h-2zM299 450h2v1h-2zM107 451h3v1h-3zM299 451h2v1h-2zM106 452h4v1h-4zM299 452h2v1h-2zM100 453h2v1h-2zM299 453h2v1h-2zM99 454h3v1h-3zM190 454h2v1h-2zM98 455h3v1h-3zM190 455h2v1h-2zM91 456h3v1h-3zM90 457h4v1h-4zM299 457h3v1h-3zM83 458h3v1h-3zM188 458h7v1h-7zM297 458h7v1h-7zM75 459h3v1h-3zM82 459h4v1h-4zM188 459h7v1h-7zM297 459h7v1h-7zM59 460h3v1h-3zM67 460h3v1h-3zM74 460h4v1h-4zM188 460h7v1h-7zM296 460h9v1h-9zM58 461h4v1h-4zM66 461h4v1h-4zM188 461h7v1h-7zM296 461h9v1h-9zM188 462h7v1h-7zM296 462h9v1h-9zM188 463h7v1h-7zM297 463h7v1h-7zM188 464h7v1h-7zM297 464h7v1h-7zM299 465h3v1h-3z"/>
<path fill="#0080ff" d="M444 89h3v1h-3zM443 90h5v1h-5zM442 91h7v1h-7zM442 92h7v1h-7zM442 93h7v1h-7zM443 94h5v1h-5zM444 95h3v1h-3zM444 100h2v1h-2zM444 101h2v1h-2zM444 106h2v1h-2zM444 107h2v1h-2zM444 112h2v1h-2zM444 113h2v1h-2zM444 118h2v1h-2zM444 119h2v1h-2zM444 124h2v1h-2zM444 125h2v1h-2zM444 130h2v1h-2zM444 131h2v1h-2zM444 136h2v1h-2zM444 137h2v1h-2zM444 142h2v1h-2zM444 143h2v1h-2zM444 148h2v1h-2zM444 149h2v1h-2zM444 154h2v1h-2zM444 155h2v1h-2zM444 160h2v1h-2zM444 161h2v1h-2zM444 166h2v1h-2zM444 167h2v1h-2zM444 172h2v1h-2zM444 173h2v1h-2zM444 178h2v1h-2zM444 179h2v1h-2zM444 184h2v1h-2zM444 185h2v1h-2zM444 190h2v1h-2zM444 191h2v1h-2zM444 196h2v1h-2zM444 197h2v1h-2zM444 202h2v1h-2zM444 203h2v1h-2zM444 208h2v1h-2zM444 209h2v1h-2zM444 214h2v1h-2zM444 215h2v1h-2zM444 220h2v1h-2zM444 221h2v1h-2zM444 226h2v1h-2zM444 227h2v1h-2zM444 232h2v1h-2zM444 233h2v1h-2zM444 238h2v1h-2zM444 239h2v1h-2zM444 244h2v1h-2zM444 245h2v1h-2zM444 250h2v1h-2zM444 251h2v1h-2zM444 256h2v1h-2zM444 257h2v1h-2zM444 262h2v1h-2zM444 263h2v1h-2zM444 268h2v1h-2zM444 269h2v1h-2zM444 273h3v1h-3zM443 274h5v1h-5zM442 275h7v1h-7zM442 276h7v1h-7zM442 277h7v1h-7zM443 278h5v1h-5zM444 279h3v1h-3zM444 280h2v1h-2zM444 281h2v1h-2zM444 286h2v1h-2zM444 287h2v1h-2zM444 292h2v1h-2zM444 293h2v1h-2zM444 298h2v1h-2zM444 299h2v1h-2zM444 304h2v1h-2zM444 305h2v1h-2zM444 310h2v1h-2zM444 311h2v1h-2zM444 316h2v1h-2zM444 317h2v1h-2zM444 322h2v1h-2zM444 323h2v1h-2zM444 328h2v1h-2zM444 329h2v1h-2zM444 334h2v1h-2zM444 335h2v1h-2zM444 340h2v1h-2zM444 341h2v1h-2zM444 346h2v1h-2zM444 347h2v1h-2zM444 352h2v1h-2zM444 353h2v1h-2zM444 358h2v1h-2zM444 359h2v1h-2zM444 364h2v1h-2zM444 365h2v1h-2zM444 370h2v1h-2zM444 371h2v1h-2zM444 376h2v1h-2zM444 377h2v1h-2zM444 382h2v1h-2zM444 383h2v1h-2zM444 388h2v1h-2zM444 389h2v1h-2zM444 394h2v1h-2zM444 395h2v1h-2zM58 400h2v1h-2zM444 400h2v1h-2zM58 401h2v1h-2zM444 401h2v1h-2zM64 404h2v1h-2zM64 405h2v1h-2zM444 406h2v1h-2zM444 407h2v1h-2zM70 408h2v1h-2zM70 409h2v1h-2zM76 412h2v1h-2zM444 412h2v1h-2zM76 413h2v1h-2zM444 413h2v1h-2zM82 416h2v1h-2zM82 417h2v1h-2zM444 418h2v1h-2zM444 419h2v1h-2zM88 421h2v1h-2zM88 422h2v1h-2zM444 424h2v1h-2zM94 425h2v1h-2zM444 425h2v1h-2zM94 426h2v1h-2zM100 429h2v1h-2zM100 430h2v1h-2zM444 430h2v1h-2zM444 431h2v1h-2zM106 433h2v1h-2zM106 434h2v1h-2zM444 436h2v1h-2zM112 437h2v1h-2zM444 437h2v1h-2zM112 438h2v1h-2zM118 442h2v1h-2zM444 442h2v1h-2zM118 443h2v1h-2zM444 443h2v1h-2zM124 447h2v1h-2zM444 448h2v1h-2zM444 449h2v1h-2zM130 450h2v1h-2zM130 451h2v1h-2zM136 454h2v1h-2zM444 454h2v1h-2zM136 455h2v1h-2zM444 455h2v1h-2zM142 458h2v1h-2zM444 458h3v1h-3zM142 459h2v1h-2zM443 459h5v1h-5zM70 460h2v1h-2zM442 460h7v1h-7zM600 460h3v1h-3zM611 460h3v1h-3zM622 460h3v1h-3zM633 460h3v1h-3zM644 460h3v1h-3zM655 460h3v1h-3zM65 461h1v1h-1zM70 461h3v1h-3zM81 461h3v1h-3zM442 461h7v1h-7zM600 461h3v1h-3zM606 461h1v1h-1zM610 461h4v1h-4zM617 461h1v1h-1zM621 461h4v1h-4zM628 461h1v1h-1zM632 461h4v1h-4zM639 461h1v1h-1zM643 461h4v1h-4zM650 461h1v1h-1zM654 461h4v1h-4zM661 461h1v1h-1zM71 462h2v1h-2zM76 462h1v1h-1zM80 462h4v1h-4zM92 462h3v1h-3zM442 462h7v1h-7zM87 463h1v1h-1zM91 463h4v1h-4zM148 463h2v1h-2zM443 463h5v1h-5zM98 464h1v1h-1zM103 464h3v1h-3zM148 464h2v1h-2zM444 464h3v1h-3zM102 465h4v1h-4zM109 466h1v1h-1zM114 466h3v1h-3zM113 467h4v1h-4zM154 467h2v1h-2zM595 467h2v1h-2zM120 468h1v1h-1zM125 468h2v1h-2zM154 468h2v1h-2zM595 468h2v1h-2zM124 469h4v1h-4zM595 469h2v1h-2zM126 470h2v1h-2zM595 470h2v1h-2zM131 471h1v1h-1zM136 471h3v1h-3zM160 471h2v1h-2zM135 472h4v1h-4zM160 472h2v1h-2zM142 474h1v1h-1zM146 474h2v1h-2zM596 474h1v1h-1zM146 475h4v1h-4zM166 475h2v1h-2zM147 476h3v1h-3zM166 476h2v1h-2zM153 477h1v1h-1zM158 478h2v1h-2zM595 478h2v1h-2zM157 479h4v1h-4zM172 479h2v1h-2zM595 479h2v1h-2zM159 480h2v1h-2zM172 480h2v1h-2zM595 480h2v1h-2zM595 481h2v1h-2zM164 482h1v1h-1zM168 482h2v1h-2zM168 483h4v1h-4zM169 484h3v1h-3zM178 484h2v1h-2zM178 485h2v1h-2zM596 485h1v1h-1zM175 486h1v1h-1zM180 487h3v1h-3zM179 488h4v1h-4zM184 488h2v1h-2zM184 489h2v1h-2zM595 489h2v1h-2zM186 490h1v1h-1zM595 490h2v1h-2zM595 491h2v1h-2zM190 492h3v1h-3zM595 492h2v1h-2zM190 493h4v1h-4zM192 494h2v1h-2zM197 495h1v1h-1zM196 496h2v1h-2zM596 496h1v1h-1zM196 497h2v1h-2zM202 497h2v1h-2zM201 498h4v1h-4zM203 499h2v1h-2zM202 500h2v1h-2zM595 500h2v1h-2zM202 501h2v1h-2zM595 501h2v1h-2zM208 502h1v1h-1zM595 502h2v1h-2zM212 503h2v1h-2zM595 503h2v1h-2zM208 504h2v1h-2zM212 504h4v1h-4zM208 505h2v1h-2zM213 505h3v1h-3zM596 507h1v1h-1zM219 508h1v1h-1zM214 509h2v1h-2zM223 509h2v1h-2zM214 510h2v1h-2zM223 510h3v1h-3zM224 511h3v1h-3zM595 511h2v1h-2zM225 512h2v1h-2zM595 512h2v1h-2zM220 513h2v1h-2zM595 513h2v1h-2zM220 514h2v1h-2zM230 514h1v1h-1zM595 514h2v1h-2zM226 517h2v1h-2zM234 517h3v1h-3zM226 518h2v1h-2zM234 518h4v1h-4zM596 518h1v1h-1zM236 519h2v1h-2zM241 520h1v1h-1zM232 521h2v1h-2zM232 522h2v1h-2zM595 522h2v1h-2zM245 523h3v1h-3zM595 523h2v1h-2zM245 524h4v1h-4zM595 524h2v1h-2zM238 525h2v1h-2zM247 525h2v1h-2zM595 525h2v1h-2zM238 526h2v1h-2zM252 529h1v1h-1zM596 529h1v1h-1zM244 530h2v1h-2zM244 531h2v1h-2zM256 531h2v1h-2zM256 532h4v1h-4zM257 533h3v1h-3zM595 533h2v1h-2zM250 534h2v1h-2zM595 534h2v1h-2zM250 535h2v1h-2zM595 535h2v1h-2zM263 536h1v1h-1zM595 536h2v1h-2zM256 538h2v1h-2zM267 538h2v1h-2zM256 539h2v1h-2zM267 539h3v1h-3zM268 540h2v1h-2zM596 540h1v1h-1zM268 541h2v1h-2zM262 542h2v1h-2zM262 543h2v1h-2zM273 544h1v1h-1zM595 544h2v1h-2zM595 545h2v1h-2zM268 546h2v1h-2zM277 546h2v1h-2zM595 546h2v1h-2zM268 547h2v1h-2zM277 547h2v1h-2zM595 547h2v1h-2zM277 548h3v1h-3zM278 549h2v1h-2zM274 551h2v1h-2zM283 551h1v1h-1zM596 551h1v1h-1zM274 552h2v1h-2zM280 555h2v1h-2zM287 555h3v1h-3zM595 555h2v1h-2zM280 556h2v1h-2zM287 556h4v1h-4zM595 556h2v1h-2zM289 557h2v1h-2zM595 557h2v1h-2zM595 558h2v1h-2zM286 559h2v1h-2zM286 560h2v1h-2zM294 561h1v1h-1zM596 562h1v1h-1zM292 563h2v1h-2zM292 564h2v1h-2zM298 564h3v1h-3zM298 565h4v1h-4zM300 566h2v1h-2zM595 566h2v1h-2zM298 567h2v1h-2zM595 567h2v1h-2zM298 568h2v1h-2zM595 568h2v1h-2zM595 569h2v1h-2zM305 570h1v1h-1zM304 572h2v1h-2zM308 572h2v1h-2zM304 573h2v1h-2zM308 573h3v1h-3zM596 573h1v1h-1zM309 574h3v1h-3zM310 575h2v1h-2zM310 576h2v1h-2zM310 577h2v1h-2zM595 577h2v1h-2zM315 578h1v1h-1zM595 578h2v1h-2zM595 579h2v1h-2zM316 580h2v1h-2zM595 580h2v1h-2zM316 581h4v1h-4zM318 582h3v1h-3zM319 583h3v1h-3zM320 584h4v1h-4zM596 584h1v1h-1zM322 585h2v1h-2zM325 588h1v1h-1zM328 588h2v1h-2zM595 588h2v1h-2zM328 589h2v1h-2zM595 589h2v1h-2zM595 590h2v1h-2zM329 591h2v1h-2zM592 591h2v1h-2zM595 591h2v1h-2zM329 592h3v1h-3zM334 592h2v1h-2zM592 592h2v1h-2zM330 593h2v1h-2zM334 593h2v1h-2zM330 594h2v1h-2zM596 595h1v1h-1zM586 596h2v1h-2zM334 597h1v1h-1zM340 597h2v1h-2zM586 597h2v1h-2zM340 598h2v1h-2zM595 599h2v1h-2zM337 600h3v1h-3zM580 600h2v1h-2zM595 600h2v1h-2zM337 601h4v1h-4zM346 601h2v1h-2zM580 601h2v1h-2zM595 601h2v1h-2zM339 602h2v1h-2zM346 602h2v1h-2zM595 602h2v1h-2zM574 604h2v1h-2zM343 605h1v1h-1zM352 605h2v1h-2zM574 605h2v1h-2zM352 606h2v1h-2zM596 606h1v1h-1zM345 608h2v1h-2zM345 609h3v1h-3zM358 609h2v1h-2zM568 609h2v1h-2zM346 610h3v1h-3zM358 610h2v1h-2zM568 610h2v1h-2zM595 610h2v1h-2zM347 611h2v1h-2zM595 611h2v1h-2zM595 612h2v1h-2zM364 613h2v1h-2zM562 613h2v1h-2zM595 613h2v1h-2zM364 614h2v1h-2zM562 614h2v1h-2zM352 615h1v1h-1zM596 617h1v1h-1zM370 618h2v1h-2zM556 618h2v1h-2zM356 619h2v1h-2zM370 619h2v1h-2zM556 619h2v1h-2zM356 620h3v1h-3zM357 621h2v1h-2zM595 621h2v1h-2zM357 622h2v1h-2zM376 622h2v1h-2zM550 622h2v1h-2zM595 622h2v1h-2zM376 623h2v1h-2zM550 623h2v1h-2zM595 623h2v1h-2zM595 624h2v1h-2zM362 625h1v1h-1zM382 626h2v1h-2zM544 626h2v1h-2zM382 627h2v1h-2zM544 627h2v1h-2zM365 628h2v1h-2zM596 628h1v1h-1zM365 629h2v1h-2zM365 630h3v1h-3zM388 630h2v1h-2zM366 631h2v1h-2zM388 631h2v1h-2zM538 631h2v1h-2zM538 632h2v1h-2zM595 632h2v1h-2zM595 633h2v1h-2zM394 634h2v1h-2zM595 634h2v1h-2zM371 635h1v1h-1zM394 635h2v1h-2zM532 635h2v1h-2zM595 635h2v1h-2zM532 636h2v1h-2zM374 638h2v1h-2zM374 639h2v1h-2zM400 639h2v1h-2zM526 639h2v1h-2zM596 639h1v1h-1zM374 640h3v1h-3zM400 640h2v1h-2zM526 640h2v1h-2zM375 641h2v1h-2zM406 643h2v1h-2zM595 643h2v1h-2zM406 644h2v1h-2zM520 644h2v1h-2zM595 644h2v1h-2zM380 645h1v1h-1zM388 645h3v1h-3zM399 645h3v1h-3zM410 645h3v1h-3zM421 645h3v1h-3zM432 645h3v1h-3zM443 645h3v1h-3zM454 645h3v1h-3zM465 645h3v1h-3zM476 645h3v1h-3zM487 645h3v1h-3zM498 645h3v1h-3zM509 645h3v1h-3zM520 645h3v1h-3zM531 645h3v1h-3zM542 645h3v1h-3zM553 645h3v1h-3zM564 645h3v1h-3zM575 645h3v1h-3zM586 645h3v1h-3zM595 645h2v1h-2zM383 646h1v1h-1zM387 646h4v1h-4zM394 646h1v1h-1zM398 646h4v1h-4zM405 646h1v1h-1zM409 646h4v1h-4zM416 646h1v1h-1zM420 646h4v1h-4zM427 646h1v1h-1zM431 646h4v1h-4zM438 646h1v1h-1zM442 646h4v1h-4zM449 646h1v1h-1zM453 646h4v1h-4zM460 646h1v1h-1zM464 646h4v1h-4zM471 646h1v1h-1zM475 646h4v1h-4zM482 646h1v1h-1zM486 646h4v1h-4zM493 646h1v1h-1zM497 646h4v1h-4zM504 646h1v1h-1zM508 646h4v1h-4zM515 646h1v1h-1zM519 646h4v1h-4zM526 646h1v1h-1zM530 646h4v1h-4zM537 646h1v1h-1zM541 646h4v1h-4zM548 646h1v1h-1zM552 646h4v1h-4zM559 646h1v1h-1zM563 646h4v1h-4zM570 646h1v1h-1zM574 646h4v1h-4zM581 646h1v1h-1zM585 646h4v1h-4zM592 646h1v1h-1zM595 646h2v1h-2z"/>
</g>
<rect x="65" y="215" width="119" height="1" fill="#fff" shape-rendering="crispEdges"/>
<rect x="65.5" y="37.5" width="118" height="177" fill="#fff" stroke="#000" stroke-width="1" shape-rendering="crispEdges"/>
<g shape-rendering="crispEdges">
<path fill="#ff0000" d="M67 44h25v1h-25zM67 45h25v1h-25zM68 76h3v1h-3zM79 76h3v1h-3zM90 76h2v1h-2zM67 77h4v1h-4zM74 77h1v1h-1zM78 77h4v1h-4zM85 77h1v1h-1zM89 77h3v1h-3zM71 121h1v1h-1zM87 121h1v1h-1zM70 122h3v1h-3zM86 122h3v1h-3zM69 123h5v1h-5zM85 123h5v1h-5zM68 124h7v1h-7zM80 124h1v1h-1zM84 124h7v1h-7zM67 125h9v1h-9zM79 125h2v1h-2zM83 125h9v1h-9zM68 126h7v1h-7zM84 126h7v1h-7zM69 127h5v1h-5zM85 127h5v1h-5zM70 128h3v1h-3zM86 128h3v1h-3zM71 129h1v1h-1zM87 129h1v1h-1zM70 170h1v1h-1zM79 170h1v1h-1zM88 170h1v1h-1zM69 171h3v1h-3zM78 171h3v1h-3zM87 171h3v1h-3zM68 172h4v1h-4zM74 172h1v1h-1zM78 172h3v1h-3zM86 172h4v1h-4zM67 173h8v1h-8zM77 173h5v1h-5zM85 173h7v1h-7zM68 174h5v1h-5zM77 174h5v1h-5zM86 174h5v1h-5zM67 175h7v1h-7zM76 175h7v1h-7zM85 175h7v1h-7zM67 176h7v1h-7zM76 176h7v1h-7zM85 176h7v1h-7zM67 186h7v1h-7zM76 186h7v1h-7zM85 186h7v1h-7zM67 187h7v1h-7zM76 187h7v1h-7zM85 187h7v1h-7zM67 188h25v1h-25zM67 189h25v1h-25zM67 190h7v1h-7zM76 190h7v1h-7zM85 190h7v1h-7zM67 191h7v1h-7zM76 191h7v1h-7zM85 191h7v1h-7zM67 192h7v1h-7zM76 192h7v1h-7zM85 192h7v1h-7z"/>
<path fill="#0080ff" d="M68 60h3v1h-3zM79 60h3v1h-3zM90 60h2v1h-2zM67 61h4v1h-4zM74 61h1v1h-1zM78 61h4v1h-4zM85 61h1v1h-1zM89 61h3v1h-3zM68 92h1v1h-1zM74 92h1v1h-1zM80 92h1v1h-1zM86 92h1v1h-1zM67 93h2v1h-2zM73 93h2v1h-2zM79 93h2v1h-2zM85 93h2v1h-2zM91 93h1v1h-1zM69 154h3v1h-3zM78 154h3v1h-3zM87 154h3v1h-3zM68 155h5v1h-5zM77 155h5v1h-5zM86 155h5v1h-5zM67 156h8v1h-8zM76 156h7v1h-7zM85 156h7v1h-7zM67 157h8v1h-8zM76 157h7v1h-7zM85 157h7v1h-7zM67 158h7v1h-7zM76 158h7v1h-7zM85 158h7v1h-7zM68 159h5v1h-5zM77 159h5v1h-5zM86 159h5v1h-5zM69 160h3v1h-3zM78 160h3v1h-3zM87 160h3v1h-3z"/>
<path fill="#004000" d="M68 108h3v1h-3zM76 108h3v1h-3zM84 108h3v1h-3zM67 109h4v1h-4zM75 109h4v1h-4zM83 109h4v1h-4zM91 109h1v1h-1zM67 138h7v1h-7zM76 138h7v1h-7zM85 138h7v1h-7zM67 139h7v1h-7zM76 139h7v1h-7zM85 139h7v1h-7zM67 140h8v1h-8zM76 140h7v1h-7zM85 140h7v1h-7zM67 141h8v1h-8zM76 141h7v1h-7zM85 141h7v1h-7zM67 142h7v1h-7zM76 142h7v1h-7zM85 142h7v1h-7zM67 143h7v1h-7zM76 143h7v1h-7zM85 143h7v1h-7zM67 144h7v1h-7zM76 144h7v1h-7zM85 144h7v1h-7zM70 201h3v1h-3zM86 201h3v1h-3zM68 202h7v1h-7zM84 202h7v1h-7zM68 203h7v1h-7zM84 203h7v1h-7zM67 204h12v1h-12zM83 204h9v1h-9zM67 205h12v1h-12zM83 205h9v1h-9zM67 206h9v1h-9zM83 206h9v1h-9zM68 207h7v1h-7zM84 207h7v1h-7zM68 208h7v1h-7zM84 208h7v1h-7zM70 209h3v1h-3zM86 209h3v1h-3z"/>
</g>
<text transform="translate(97 49) scale(1 1.12)">n +</text>
<text transform="translate(97 65) scale(1 1.12)">n -</text>
<text transform="translate(97 81) scale(1 1.12)" textLength="81.4" lengthAdjust="spacing">n + Gust FL 115</text>
<text transform="translate(97 97) scale(1 1.12)" textLength="80.4" lengthAdjust="spacing">n - Gust FL 1 15</text>
<text transform="translate(97 113) scale(1 1.12)">FF</text>
<text transform="translate(97 129) scale(1 1.12)">Vs</text>
<text transform="translate(97 145) scale(1 1.12)">Vsf</text>
<text transform="translate(97 161) scale(1 1.12)">Va</text>
<text transform="translate(97 177) scale(1 1.12)">Vc</text>
<text transform="translate(97 193) scale(1 1.12)">Vd</text>
<text transform="translate(97 209) scale(1 1.12)">Vf</text>
<text transform="translate(57 36) scale(1 1.12)" text-anchor="end">7</text>
<text transform="translate(57 67) scale(1 1.12)" text-anchor="end">6.5</text>
<text transform="translate(57 98) scale(1 1.12)" text-anchor="end">6</text>
<text transform="translate(57 129) scale(1 1.12)" text-anchor="end">5.5</text>
<text transform="translate(57 160) scale(1 1.12)" text-anchor="end">5</text>
<text transform="translate(57 190) scale(1 1.12)" text-anchor="end">4.5</text>
<text transform="translate(57 221) scale(1 1.12)" text-anchor="end">4</text>
<text transform="translate(57 252) scale(1 1.12)" text-anchor="end">3.5</text>
<text transform="translate(57 283) scale(1 1.12)" text-anchor="end">3</text>
<text transform="translate(57 314) scale(1 1.12)" text-anchor="end">2.5</text>
<text transform="translate(57 344) scale(1 1.12)" text-anchor="end">2</text>
<text transform="translate(57 375) scale(1 1.12)" text-anchor="end">1.5</text>
<text transform="translate(57 406) scale(1 1.12)" text-anchor="end">1</text>
<text transform="translate(57 437) scale(1 1.12)" text-anchor="end">0.5</text>
<text transform="translate(57 498) scale(1 1.12)" text-anchor="end">−<tspan dx="3">0.5</tspan></text>
<text transform="translate(57 529) scale(1 1.12)" text-anchor="end">−<tspan dx="3">1</tspan></text>
<text transform="translate(57 560) scale(1 1.12)" text-anchor="end">−<tspan dx="3">1.5</tspan></text>
<text transform="translate(57 591) scale(1 1.12)" text-anchor="end">−<tspan dx="3">2</tspan></text>
<text transform="translate(57 622) scale(1 1.12)" text-anchor="end">−<tspan dx="3">2.5</tspan></text>
<text transform="translate(57 652) scale(1 1.12)" text-anchor="end">−<tspan dx="3">3</tspan></text>
<text transform="translate(64.3 477) scale(1 1.12)" text-anchor="middle">0</text>
<text transform="translate(91.4 477) scale(1 1.12)" text-anchor="middle">10</text>
<text transform="translate(121.4 477) scale(1 1.12)" text-anchor="middle">20</text>
<text transform="translate(151.4 477) scale(1 1.12)" text-anchor="middle">30</text>
<text transform="translate(182.4 477) scale(1 1.12)" text-anchor="middle">40</text>
<text transform="translate(212.4 477) scale(1 1.12)" text-anchor="middle">50</text>
<text transform="translate(242.4 477) scale(1 1.12)" text-anchor="middle">60</text>
<text transform="translate(272.4 477) scale(1 1.12)" text-anchor="middle">70</text>
<text transform="translate(303.4 477) scale(1 1.12)" text-anchor="middle">80</text>
<text transform="translate(333.4 477) scale(1 1.12)" text-anchor="middle">90</text>
<text transform="translate(363.4 477) scale(1 1.12)" text-anchor="middle">100</text>
<text transform="translate(393.4 477) scale(1 1.12)" text-anchor="middle">110</text>
<text transform="translate(424.4 477) scale(1 1.12)" text-anchor="middle">120</text>
<text transform="translate(454.4 477) scale(1 1.12)" text-anchor="middle">130</text>
<text transform="translate(484.4 477) scale(1 1.12)" text-anchor="middle">140</text>
<text transform="translate(514.4 477) scale(1 1.12)" text-anchor="middle">150</text>
<text transform="translate(545.4 477) scale(1 1.12)" text-anchor="middle">160</text>
<text transform="translate(575.4 477) scale(1 1.12)" text-anchor="middle">170</text>
<text transform="translate(605.4 477) scale(1 1.12)" text-anchor="middle">180</text>
<text transform="translate(635.4 477) scale(1 1.12)" text-anchor="middle">190</text>
<text transform="translate(666.4 477) scale(1 1.12)" text-anchor="middle">200</text>
<text transform="translate(0 20) scale(1 1.12)"><tspan x="140.21" textLength="42.50" lengthAdjust="spacingAndGlyphs">FLIGHT</tspan> <tspan x="186.42" textLength="60.14" lengthAdjust="spacingAndGlyphs">ENVELOPE</tspan> <tspan x="249.84" textLength="12.90" lengthAdjust="spacingAndGlyphs">@</tspan> <tspan x="265.30" textLength="40.49" lengthAdjust="spacingAndGlyphs">MTOM</tspan> <tspan x="308.64" textLength="4.89" lengthAdjust="spacingAndGlyphs">-</tspan> <tspan x="316.12" textLength="32.10" lengthAdjust="spacingAndGlyphs">GUST</tspan> <tspan x="350.78" textLength="12.12" lengthAdjust="spacingAndGlyphs">@</tspan> <tspan x="366.90" textLength="61.19" lengthAdjust="spacingAndGlyphs">Wmin=1146</tspan> <tspan x="431.61" textLength="9.68" lengthAdjust="spacingAndGlyphs">lb</tspan> <tspan x="445.51" textLength="17.99" lengthAdjust="spacingAndGlyphs">and</tspan> <tspan x="468.20" textLength="23.40" lengthAdjust="spacingAndGlyphs">Serv</tspan> <tspan x="495.41" textLength="73.57" lengthAdjust="spacingAndGlyphs">Ceiling=11500</tspan> <tspan x="572.52" textLength="6.94" lengthAdjust="spacingAndGlyphs">ft</tspan></text>
<text transform="translate(0 688) scale(1 1.12)"><tspan x="293.12" textLength="50.54" lengthAdjust="spacingAndGlyphs">Equivalent</tspan> <tspan x="347.74" textLength="26.36" lengthAdjust="spacingAndGlyphs">speed</tspan> <tspan x="376.81" textLength="22.87" lengthAdjust="spacingAndGlyphs">EAS</tspan> <tspan x="403.42" textLength="22.22" lengthAdjust="spacingAndGlyphs">(kts)</tspan></text>
<g transform="translate(15.2,378.4) rotate(-90)">
<text transform="scale(1 1.12)"><tspan x="-0.17" textLength="22.47" lengthAdjust="spacingAndGlyphs">Load</tspan> <tspan x="25.82" textLength="26.84" lengthAdjust="spacingAndGlyphs">factor</tspan> <tspan x="55.21" textLength="24.74" lengthAdjust="spacingAndGlyphs">("g")</tspan></text>
</g>
</svg>
</body></html>
